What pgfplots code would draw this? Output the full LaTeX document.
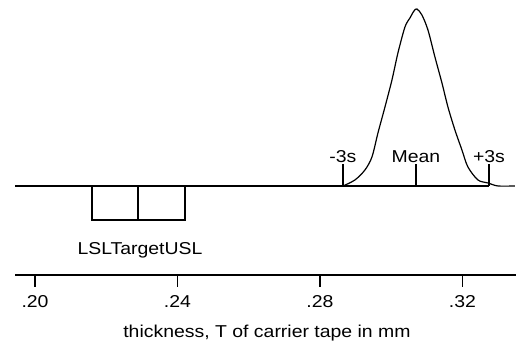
\documentclass[border=0pt]{standalone}
\usepackage{fontspec}
\setmainfont{Liberation Sans}[FakeStretch=1.13]
\usepackage{pgfplots}
\pgfplotsset{compat=1.18}
\begin{document}
\fontsize{17.2}{20}\selectfont
\begin{tikzpicture}
\begin{axis}[
  x=3562.5pt, y=1pt,
  xmin=0.19439, xmax=0.33504, ymin=71, ymax=346,
  axis x line*=bottom, axis y line=none,
  xtick={0.20,0.24,0.28,0.32}, xticklabels={},
  tick align=outside, major tick length=12pt,
  xtick style={black, line width=1.2pt},
  axis line style={black, line width=1.2pt},
  clip=false,
  font=\fontsize{17.2}{20}\selectfont,
]
% baseline
\addplot[black, line width=1.2pt] coordinates {(0.19439,160) (0.28646,160)};
\addplot[black, line width=1.5pt] coordinates {(0.28646,160) (0.32744,160)};
% spec boxes
\addplot[black, line width=1.2pt] coordinates {(0.2160,160) (0.2160,126) (0.24211,126) (0.24211,160)};
\addplot[black, line width=1.2pt] coordinates {(0.22891,160) (0.22891,126)};
% -3s, mean, +3s ticks
\addplot[black, line width=1.2pt] coordinates {(0.28646,160) (0.28646,182)};
\addplot[black, line width=1.2pt] coordinates {(0.30695,160) (0.30695,182)};
\addplot[black, line width=1.2pt] coordinates {(0.32744,160) (0.32744,182)};
% distribution curve
\addplot[black, line width=1.2pt, smooth, tension=0.5] coordinates {
(0.28646,160) (0.28982,166) (0.29263,176) (0.29460,189) (0.29628,213)
(0.29825,239) (0.30021,266) (0.30189,293) (0.30386,319) (0.30526,328)
(0.30639,335) (0.30723,337) (0.30863,331) (0.31032,316) (0.31228,289)
(0.31425,263) (0.31593,239) (0.31789,216) (0.31986,196) (0.32154,179)
(0.32435,166) (0.32716,163) (0.32996,160) (0.33474,160)};
% labels
\node[anchor=base, inner sep=0] at (axis cs:0.28646,183) {-3s};
\node[anchor=base, inner sep=0] at (axis cs:0.30695,183) {Mean};
\node[anchor=base, inner sep=0] at (axis cs:0.32744,183) {+3s};
\node[anchor=base, inner sep=0] at (axis cs:0.22947,91.7) {LSLTargetUSL};
\node[anchor=base, inner sep=0] at (axis cs:0.20,38.7) {.20};
\node[anchor=base, inner sep=0] at (axis cs:0.24,38.7) {.24};
\node[anchor=base, inner sep=0] at (axis cs:0.28,38.7) {.28};
\node[anchor=base, inner sep=0] at (axis cs:0.32,38.7) {.32};
\node[anchor=base, inner sep=0] at (axis cs:0.26512,8.7) {thickness, T of carrier tape in mm};
\coordinate (BL) at (axis cs:0.19017,0);
\coordinate (TR) at (axis cs:0.33504,346);
\end{axis}
\pgfresetboundingbox
\path (BL) rectangle (TR);
\end{tikzpicture}
\end{document}
